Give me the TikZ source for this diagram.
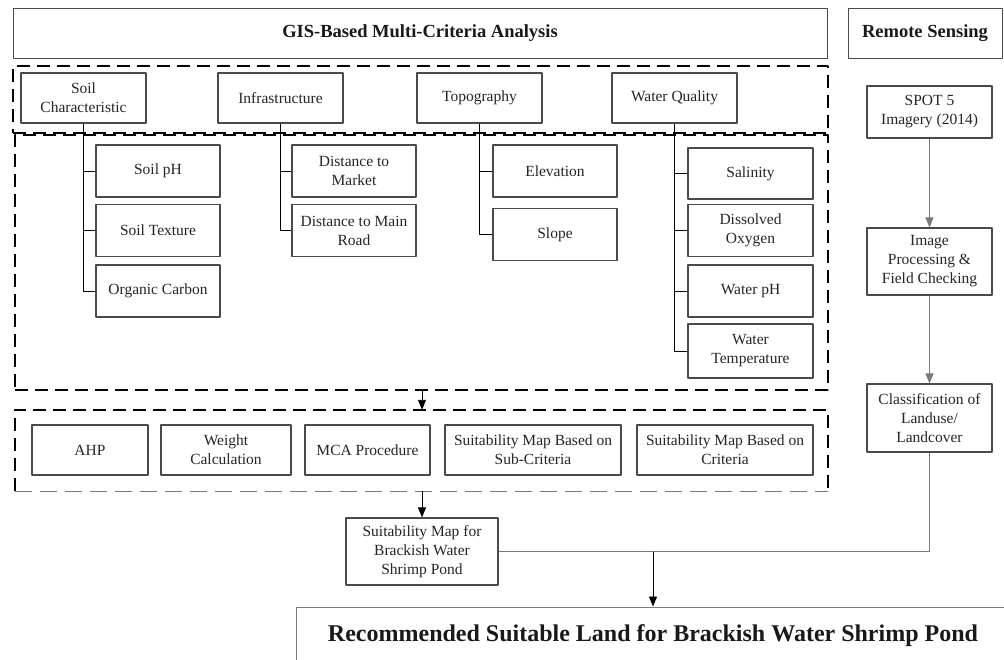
\documentclass[tikz,border=0pt]{standalone}
\usepackage{fontspec}
\setmainfont{Liberation Serif}
\usetikzlibrary{arrows.meta}
\definecolor{boxgray}{HTML}{4A4A4A}
\definecolor{linegray}{HTML}{7A7A7A}
\tikzset{
  every picture/.style={line join=round, >=Triangle},
  sz/.style 2 args={minimum width=#1pt, minimum height=#2pt},
  box/.style={draw=boxgray, line width=1.1pt, fill=white, align=center, inner sep=2pt, text=black!85, font=\fontsize{15.5}{19}\selectfont},
  head/.style={draw=boxgray, line width=1pt, text=black!90, font=\fontsize{18.5}{22}\selectfont\bfseries},
  group/.style={draw, line width=2.2pt, dash pattern=on 13pt off 7pt},
  arr/.style={-{Triangle[length=10pt,width=8pt]}, line width=0.9pt},
}

\begin{document}
\begin{tikzpicture}[x=1pt,y=-1pt]
\useasboundingbox (0,0) rectangle (1004,659);
% headings
\node[head,sz={814}{50}] (gis) at (420,33) {GIS-Based Multi-Criteria Analysis};
\node[head,sz={154}{50}] (rs) at (925,33) {Remote Sensing};
% dashed groups
\node[group,sz={815}{67}] (critgrp) at (420.5,99.5) {};
\node[group,sz={813}{255}] (subgrp) at (421.5,262.5) {};
\node[sz={813}{81}] (procgrp) at (421.5,450.5) {};
\draw[group] (procgrp.south west) |- (procgrp.north east) -- (procgrp.south east);
\draw[linegray, line width=1pt, dash pattern=on 17pt off 8pt] (procgrp.south west) -- (procgrp.south east);
% criteria
\node[box,sz={125}{50}] (soilc) at (83.5,98) {Soil\\Characteristic};
\node[box,sz={125}{50}] (infra) at (280.5,98) {Infrastructure};
\node[box,sz={125}{50}] (topo) at (479.5,98) {Topography};
\node[box,sz={125}{50}] (waterq) at (674.5,98) {Water Quality};
% sub-criteria
\node[box,sz={124}{52}] (soilph) at (158,171) {Soil pH};
\node[box,sz={124}{52}] (soiltex) at (158,230.5) {Soil Texture};
\node[box,sz={124}{52}] (orgc) at (158,291) {Organic Carbon};
\node[box,sz={124}{52}] (distm) at (354,171) {Distance to\\Market};
\node[box,sz={124}{52}] (distr) at (354,230.5) {Distance to Main\\Road};
\node[box,sz={124}{52}] (elev) at (555,171) {Elevation};
\node[box,sz={124}{52}] (slope) at (555,234.5) {Slope};
\node[box,sz={125}{51}] (salin) at (750.5,173.5) {Salinity};
\node[box,sz={125}{52}] (dox) at (750.5,230.5) {Dissolved\\Oxygen};
\node[box,sz={125}{52}] (wph) at (750.5,291) {Water pH};
\node[box,sz={125}{54}] (wtemp) at (750.5,351) {Water\\Temperature};
% trunks
\draw[line width=0.9pt] (soilc.south) |- (orgc.west);
\foreach \s in {soilph,soiltex} \draw[line width=0.9pt] (soilc.south |- \s.west) -- (\s.west);
\draw[line width=0.9pt] (infra.south) |- (distr.west);
\draw[line width=0.9pt] (infra.south |- distm.west) -- (distm.west);
\draw[line width=0.9pt] (topo.south) |- (slope.west);
\draw[line width=0.9pt] (topo.south |- elev.west) -- (elev.west);
\draw[line width=0.9pt] (waterq.south) |- (wtemp.west);
\foreach \s in {salin,dox,wph} \draw[line width=0.9pt] (waterq.south |- \s.west) -- (\s.west);
% procedure
\node[box,sz={116}{50}] (ahp) at (90,450) {AHP};
\node[box,sz={130}{50}] (weight) at (226,450) {Weight\\Calculation};
\node[box,sz={125}{50}] (mca) at (367.5,450) {MCA Procedure};
\node[box,sz={176}{50}] (subcmap) at (533,450) {Suitability Map Based on\\Sub-Criteria};
\node[box,sz={176}{50}] (critmap) at (725,450) {Suitability Map Based on\\Criteria};
\node[box,sz={152}{67}] (suitmap) at (422,551.5) {Suitability Map for\\Brackish Water\\Shrimp Pond};
% remote sensing
\node[box,sz={125}{52}] (spot) at (929.5,112) {SPOT 5\\Imagery (2014)};
\node[box,sz={125}{67}] (improc) at (929.5,261.5) {Image\\Processing \&\\Field Checking};
\node[box,sz={125}{68}] (classif) at (929.5,418) {Classification of\\Landuse/\\Landcover};
% result
\node[draw=linegray, line width=1pt, sz={714}{58}, text=black!90, font=\fontsize{24}{28}\selectfont\bfseries] (final) at (653,636) {Recommended Suitable Land for Brackish Water Shrimp Pond};
% flow
\draw[arr] (subgrp.south -| suitmap.north) -- (procgrp.north -| suitmap.north);
\draw[arr] (procgrp.south -| suitmap.north) -- (suitmap.north);
\draw[arr,linegray] (spot) -- (improc);
\draw[arr,linegray] (improc) -- (classif);
\draw[linegray, line width=0.9pt] (suitmap.east) -| (classif.south);
\draw[arr] (suitmap.east -| final.north) -- (final.north);
\end{tikzpicture}
\end{document}
